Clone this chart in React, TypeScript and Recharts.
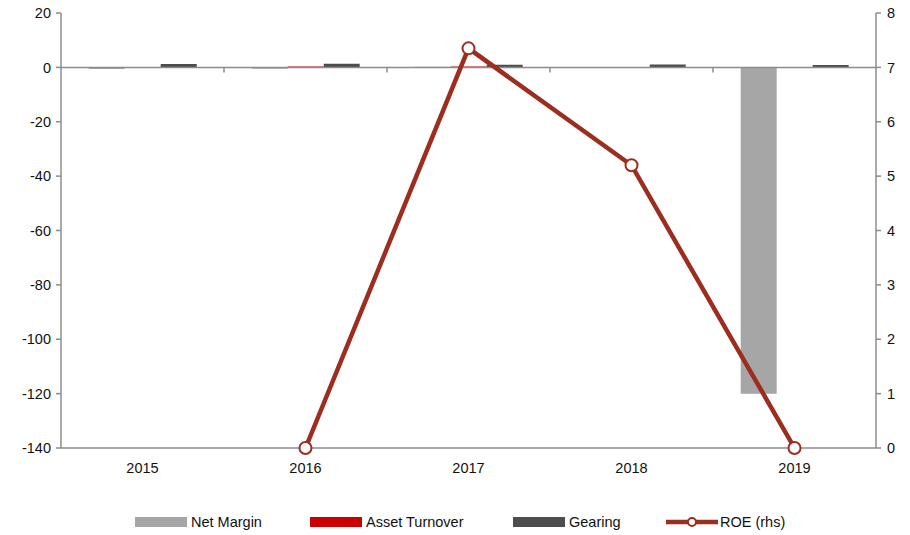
import React from 'react';
import {
  ComposedChart, Bar, Line, XAxis, YAxis, ReferenceLine, Legend,
} from 'recharts';

const years = ['2015', '2016', '2017', '2018', '2019'];
const netMargin = [-0.6, -0.5, 0.2, 0.1, -120];
const assetTurnover = [0.1, 0.3, 0.3, 0.1, 0.1];
const gearing = [1.2, 1.3, 1.0, 1.1, 0.9];
const roe = [null, 0, 7.35, 5.2, 0];
const leftTicks = [20, 0, -20, -40, -60, -80, -100, -120, -140];
const rightTicks = [0, 1, 2, 3, 4, 5, 6, 7, 8];

const data = years.map((y, i) => ({
  year: y,
  netMargin: netMargin[i],
  assetTurnover: assetTurnover[i],
  gearing: gearing[i],
  roe: roe[i],
}));

const AXIS = '#8c8c8c';
const ROE_COLOR = '#9c2d1f';
const FONT = '"Liberation Sans", Arial, sans-serif';

const legendItems = [
  { label: 'Net Margin', color: '#a6a6a6', left: 135, type: 'rect' },
  { label: 'Asset Turnover', color: '#cc0000', left: 310, type: 'rect' },
  { label: 'Gearing', color: '#4d4d4d', left: 513, type: 'rect' },
  { label: 'ROE (rhs)', color: ROE_COLOR, left: 666, type: 'line' },
];

const CustomLegend = () => (
  <div style={{ position: 'relative', width: 910, height: 57, fontFamily: FONT, fontSize: 14.5, color: '#111' }}>
    {legendItems.map((it) => (
      <div key={it.label} style={{ position: 'absolute', left: it.left, top: 36, display: 'flex', alignItems: 'center', height: 16 }}>
        {it.type === 'rect' ? (
          <div style={{ width: 52, height: 10, background: it.color, marginRight: 4 }} />
        ) : (
          <svg width={52} height={12} style={{ marginRight: 2 }}>
            <line x1={0} y1={6} x2={52} y2={6} stroke={it.color} strokeWidth={4.5} />
            <circle cx={26} cy={6} r={4} fill="#fff" stroke={it.color} strokeWidth={2} />
          </svg>
        )}
        <span>{it.label}</span>
      </div>
    ))}
  </div>
);

const ZeroLine = (props: any) => {
  const { x1, x2, y1 } = props;
  const n = years.length;
  const step = (x2 - x1) / n;
  const ticks = [];
  for (let i = 1; i < n; i++) {
    const x = x1 + step * i;
    ticks.push(<line key={i} x1={x} x2={x} y1={y1} y2={y1 + 5} stroke={AXIS} strokeWidth={1.5} />);
  }
  return (
    <g>
      <line x1={x1} x2={x2} y1={y1} y2={y1} stroke={AXIS} strokeWidth={1.5} />
      {ticks}
    </g>
  );
};

export default function App() {
  return (
    <div style={{ position: 'absolute', left: 0, top: 0, width: 910, height: 535, background: '#fff' }}>
      <ComposedChart
        width={910}
        height={535}
        data={data}
        margin={{ top: 13, right: 0, bottom: 0, left: 0 }}
        barCategoryGap="17%"
        barGap={0}
      >
        <XAxis
          dataKey="year"
          height={30}
          axisLine={{ stroke: AXIS, strokeWidth: 1.5 }}
          tickLine={false}
          tickSize={6}
          tickMargin={9}
          tick={{ fill: '#111', fontSize: 14.5, fontFamily: FONT }}
        />
        <YAxis
          yAxisId="left"
          width={61}
          domain={[-140, 20]}
          ticks={leftTicks}
          interval={0}
          axisLine={{ stroke: AXIS, strokeWidth: 1.5 }}
          tickLine={{ stroke: AXIS, strokeWidth: 1.5 }}
          tickSize={5}
          tickMargin={5}
          tick={{ fill: '#111', fontSize: 14.5, fontFamily: FONT }}
        />
        <YAxis
          yAxisId="right"
          orientation="right"
          width={34}
          domain={[0, 8]}
          ticks={rightTicks}
          interval={0}
          axisLine={{ stroke: AXIS, strokeWidth: 1.5 }}
          tickLine={{ stroke: AXIS, strokeWidth: 1.5 }}
          tickSize={5}
          tickMargin={6}
          tick={{ fill: '#111', fontSize: 14.5, fontFamily: FONT, textAnchor: 'start' }}
        />
        <Legend verticalAlign="bottom" height={57} content={<CustomLegend />} />
        <Bar yAxisId="left" dataKey="netMargin" name="Net Margin" fill="#a6a6a6" isAnimationActive={false} />
        <Bar yAxisId="left" dataKey="assetTurnover" name="Asset Turnover" fill="#cc0000" isAnimationActive={false} />
        <Bar yAxisId="left" dataKey="gearing" name="Gearing" fill="#4d4d4d" isAnimationActive={false} />
        <ReferenceLine yAxisId="left" y={0} shape={<ZeroLine />} />
        <Line
          yAxisId="right"
          dataKey="roe"
          name="ROE (rhs)"
          stroke={ROE_COLOR}
          strokeWidth={4.5}
          dot={{ r: 6, fill: '#fff', stroke: ROE_COLOR, strokeWidth: 2 }}
          isAnimationActive={false}
        />
      </ComposedChart>
    </div>
  );
}
